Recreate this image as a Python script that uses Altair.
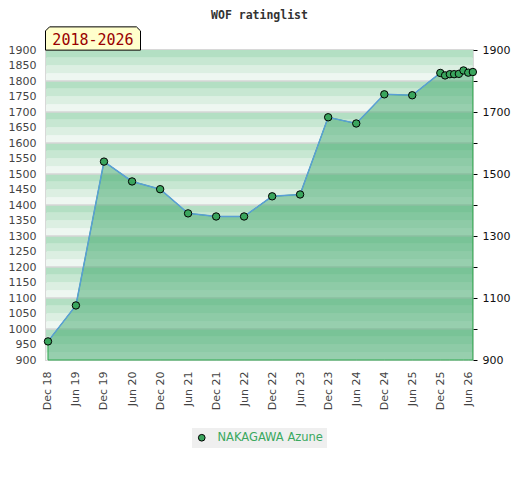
import altair as alt
import pandas as pd

player = "NAKAGAWA Azune"
period_label = "2018-2026"
chart_title = "WOF ratinglist"

dates = [
    "2018-12-01", "2019-06-01", "2019-12-01", "2020-06-01", "2020-12-01",
    "2021-06-01", "2021-12-01", "2022-06-01", "2022-12-01", "2023-06-01",
    "2023-12-01", "2024-06-01", "2024-12-01", "2025-06-01", "2025-12-01",
    "2026-01-01", "2026-02-01", "2026-03-01", "2026-04-01", "2026-05-01",
    "2026-06-01", "2026-07-01",
]
ratings = [
    960, 1076, 1540, 1476, 1451,
    1373, 1363, 1363, 1428, 1434,
    1683, 1663, 1757, 1754, 1826,
    1818, 1822, 1822, 1823, 1834,
    1827, 1829,
]

tick_years_months = [(2018, 12)] + [(y, m) for y in range(2019, 2026) for m in (6, 12)] + [(2026, 6)]
left_ticks = list(range(900, 1901, 50))
right_ticks = list(range(900, 1901, 100))

band_lo = list(range(900, 1900, 25))
band_colors = ["#eef7f1", "#dcefe2", "#c7e7d2", "#b3dfc3"]

df = pd.DataFrame({"date": dates, "rating": ratings, "player": [player] * len(dates)})
stripes_df = pd.DataFrame({
    "lo": band_lo,
    "hi": [v + 25 for v in band_lo],
    "shade": [band_colors[((v - 900) // 25) % 4] for v in band_lo],
})
grid_df = pd.DataFrame({"v": list(range(1000, 1900, 100))})

W, H = 427, 310
green_pt = "#3aa55d"

yscale = alt.Scale(domain=[900, 1900], nice=False, zero=False)
xscale = alt.Scale(domain=[alt.DateTime(year=2018, month=11, date=18),
                           alt.DateTime(year=2026, month=7, date=2)])
tick_vals = [alt.DateTime(year=y, month=m, date=1) for y, m in tick_years_months]

x_enc = alt.X("date:T", scale=xscale, title=None,
              axis=alt.Axis(values=tick_vals, format="%b %y", labelAngle=270,
                            ticks=False, domain=False, grid=False, labelColor="#444",
                            labelFontSize=11, labelFont="DejaVu Sans", labelPadding=11,
                            labelOverlap=False, labelFlush=False))

left_axis = alt.Axis(values=left_ticks, format="d", ticks=False, tickSize=0, domain=False,
                     grid=False, labelColor="#444", labelFontSize=11, labelFont="DejaVu Sans",
                     labelPadding=10, orient="left", labelOverlap=False, labelFlush=False)
right_axis = alt.Axis(values=right_ticks, format="d", ticks=True, tickSize=4, tickColor="#000",
                      domain=False, grid=False, labelColor="#111", labelFontSize=11,
                      labelFont="DejaVu Sans", labelPadding=5, orient="right",
                      labelExpr="datum.value % 200 == 100 ? datum.label : ''",
                      labelOverlap=False, labelFlush=False)

stripes = alt.Chart(stripes_df).mark_rect().encode(
    y=alt.Y("lo:Q", scale=yscale, axis=left_axis, title=None),
    y2="hi:Q",
    fill=alt.Fill("shade:N", scale=None),
)
gridlines = alt.Chart(grid_df).mark_rule(color="#d6d6d6", strokeWidth=1.5).encode(
    y=alt.Y("v:Q", scale=yscale, axis=None),
)
base = alt.Chart(df)
area = base.mark_area(fill="#3fa76b", fillOpacity=0.5, stroke="#2fa84f", strokeWidth=1).encode(
    x=x_enc,
    y=alt.Y("rating:Q", scale=yscale, axis=None),
    y2=alt.datum(900),
)
line = base.mark_line(color="#5a9fd6", strokeWidth=1.5).encode(
    x=x_enc,
    y=alt.Y("rating:Q", scale=yscale, axis=None),
)
points = base.mark_point(filled=True, size=55, stroke="black", strokeWidth=1, opacity=1).encode(
    x=x_enc,
    y=alt.Y("rating:Q", scale=yscale, axis=right_axis, title=None),
    color=alt.Color("player:N", scale=alt.Scale(domain=[player], range=[green_pt]),
                    legend=alt.Legend(title=None, orient="none", legendX=146, legendY=378,
                                      fillColor="#efefef", padding=4, labelColor="#3aa860",
                                      labelFont="DejaVu Sans", labelFontSize=11.5,
                                      symbolType="circle", symbolSize=45,
                                      symbolStrokeColor="#000", symbolStrokeWidth=1,
                                      symbolOpacity=1, labelOffset=10)),
)

box_path = "M-1,0.245 L-1,-0.16 L-0.915,-0.245 L0.915,-0.245 L1,-0.16 L1,0.245 Z"
label_df = pd.DataFrame({"t": [period_label]})
box = alt.Chart(label_df).mark_point(shape=box_path, size=95 * 95, filled=True,
                                     fill="#ffffcc", stroke="black", strokeWidth=1,
                                     opacity=1).encode(
    x=alt.value(47), y=alt.value(-11.5))
box_text = alt.Chart(label_df).mark_text(font="DejaVu Sans Mono", fontSize=15, color="#990000",
                                         align="center", baseline="middle").encode(
    x=alt.value(47), y=alt.value(-10.5), text="t:N")

title_df = pd.DataFrame({"t": [chart_title]})
title_text = alt.Chart(title_df).mark_text(font="DejaVu Sans Mono", fontSize=11.5,
                                           fontWeight="bold", color="#333",
                                           align="center", baseline="alphabetic").encode(
    x=alt.value(W / 2), y=alt.value(-31.5), text="t:N")

chart = alt.layer(stripes, gridlines, area, line, points, box, box_text, title_text).resolve_axis(
    y="independent"
).properties(
    width=W, height=H,
    autosize=alt.AutoSizeParams(type="none"),
    padding={"left": 38, "top": 42, "right": 39, "bottom": 100},
).configure_view(stroke="#d8d8d8", strokeWidth=2)

chart.save("out.html", embed_options={"renderer": "svg", "actions": False})
